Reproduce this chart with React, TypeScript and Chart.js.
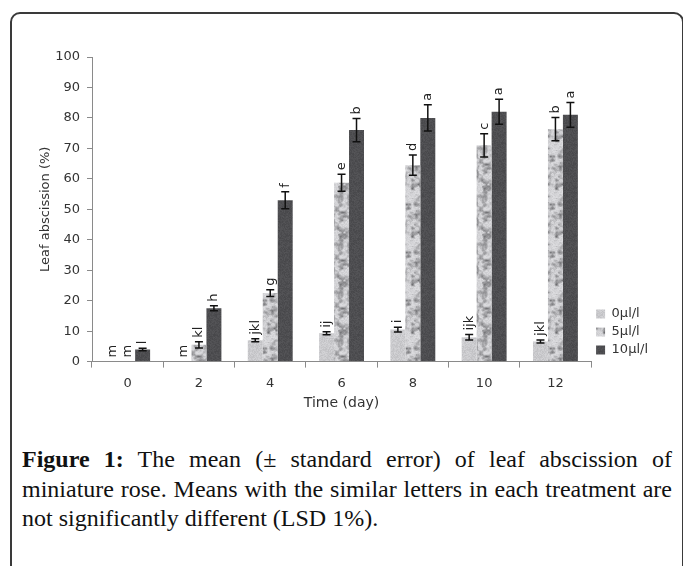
import React, { useEffect, useRef } from "react";
import { Chart, registerables } from "chart.js";

Chart.register(...registerables);

const days = ["0", "2", "4", "6", "8", "10", "12"];
const seriesNames = ["0µl/l", "5µl/l", "10µl/l"];
const mean0 = [0, 0, 7, 9.3, 10.5, 8, 6.6];
const mean5 = [0, 5.5, 22.5, 58.7, 64.5, 71, 76.3];
const mean10 = [4, 17.5, 53, 76, 80, 82, 81];
const se0 = [0, 0, 0.5, 0.5, 0.8, 0.9, 0.5];
const se5 = [0, 1, 1.1, 2.8, 3.3, 3.8, 3.8];
const se10 = [0.4, 0.8, 2.8, 3.8, 4.3, 4.1, 4.1];
const letters0 = ["m", "m", "jkl", "ij", "i", "ijk", "jkl"];
const letters5 = ["m", "kl", "g", "e", "d", "c", "b"];
const letters10 = ["l", "h", "f", "b", "a", "a", "a"];
const yTicks = [0, 10, 20, 30, 40, 50, 60, 70, 80, 90, 100];

const FONT = "'DejaVu Sans'";

function hash(x: number, y: number, s: number) {
  let h = (x * 374761393 + y * 668265263 + s * 982451653) | 0;
  h = Math.imul(h ^ (h >>> 13), 1274126177);
  h = h ^ (h >>> 16);
  return ((h >>> 0) % 1000) / 1000;
}

function smooth(x: number, y: number, cell: number, s: number, W: number) {
  const n = W / cell;
  const gx = x / cell, gy = y / cell;
  const x0 = Math.floor(gx), y0 = Math.floor(gy);
  const fx = gx - x0, fy = gy - y0;
  const a = hash(x0 % n, y0 % n, s), b = hash((x0 + 1) % n, y0 % n, s);
  const c = hash(x0 % n, (y0 + 1) % n, s), d = hash((x0 + 1) % n, (y0 + 1) % n, s);
  const u = fx * fx * (3 - 2 * fx), v = fy * fy * (3 - 2 * fy);
  return (a * (1 - u) + b * u) * (1 - v) + (c * (1 - u) + d * u) * v;
}

function makePattern(kind: number): CanvasPattern | string {
  const c = document.createElement("canvas");
  const W = 48, H = 48;
  c.width = W; c.height = H;
  const g = c.getContext("2d");
  if (!g) return "#999";
  const img = g.createImageData(W, H);
  for (let y = 0; y < H; y++) {
    for (let x = 0; x < W; x++) {
      let v = 128;
      if (kind === 0) {
        v = 202 + (hash(x, y, 1) - 0.5) * 20;
      } else if (kind === 1) {
        const n = smooth(x, y, 4, 7, W) * 0.6 + smooth(x, y, 2, 3, W) * 0.4;
        v = 212 - Math.max(0, n - 0.38) * 170 + (hash(x, y, 9) - 0.5) * 16;
      } else {
        v = 78 + (hash(x, y, 11) - 0.5) * 14;
      }
      const i = (y * W + x) * 4;
      img.data[i] = v;
      img.data[i + 1] = v;
      img.data[i + 2] = v + 3;
      img.data[i + 3] = 255;
    }
  }
  g.putImageData(img, 0, 0);
  const p = g.createPattern(c, "repeat");
  return p || "#999";
}

const errLetterPlugin = {
  id: "errLetters",
  afterDatasetsDraw(chart: any) {
    const ctx = chart.ctx;
    const yScale = chart.scales.y;
    const ses = [se0, se5, se10];
    const lets = [letters0, letters5, letters10];
    chart.data.datasets.forEach((ds: any, di: number) => {
      const meta = chart.getDatasetMeta(di);
      meta.data.forEach((bar: any, i: number) => {
        const v = ds.data[i];
        const se = ses[di][i];
        const x = bar.x;
        const yTop = yScale.getPixelForValue(v + se);
        const yBot = yScale.getPixelForValue(v - se);
        ctx.save();
        if (se > 0) {
          ctx.strokeStyle = "#111";
          ctx.lineWidth = 1.5;
          ctx.beginPath();
          ctx.moveTo(x, yTop);
          ctx.lineTo(x, yBot);
          ctx.moveTo(x - 4, yTop);
          ctx.lineTo(x + 4, yTop);
          ctx.moveTo(x - 4, yBot);
          ctx.lineTo(x + 4, yBot);
          ctx.stroke();
        }
        const txt = lets[di][i];
        ctx.translate(x, yTop - 4);
        ctx.rotate(-Math.PI / 2);
        ctx.fillStyle = "#222";
        ctx.font = "13px " + FONT;
        ctx.textAlign = "left";
        ctx.textBaseline = "middle";
        ctx.fillText(txt, 0, 0);
        ctx.restore();
      });
    });
  },
};

export default function App() {
  const ref = useRef<HTMLCanvasElement | null>(null);
  useEffect(() => {
    if (!ref.current) return;
    const pats = [makePattern(0), makePattern(1), makePattern(2)];
    const chart = new Chart(ref.current, {
      type: "bar",
      data: {
        labels: days,
        datasets: [
          { label: seriesNames[0], data: mean0, backgroundColor: pats[0] as any, borderWidth: 0 },
          { label: seriesNames[1], data: mean5, backgroundColor: pats[1] as any, borderWidth: 0 },
          { label: seriesNames[2], data: mean10, backgroundColor: pats[2] as any, borderWidth: 0 },
        ],
      },
      options: {
        animation: false,
        responsive: false,
        layout: { padding: { top: 17, right: 18, left: 0, bottom: 0 } },
        datasets: { bar: { categoryPercentage: 0.63, barPercentage: 1 } },
        plugins: {
          tooltip: { enabled: false },
          legend: {
            position: "right",
            align: "end",
            fullSize: false,
            labels: {
              boxWidth: 9,
              boxHeight: 9,
              padding: 5,
              color: "#333",
              font: { family: FONT, size: 13 },
            },
          },
        },
        scales: {
          x: {
            grid: {
              display: true,
              drawOnChartArea: false,
              drawTicks: true,
              tickLength: 6,
              offset: true,
              color: "#8a8a8a",
            },
            border: { color: "#8a8a8a", width: 1 },
            ticks: { color: "#333", font: { family: FONT, size: 13 }, padding: 8 },
            title: {
              display: true,
              text: "Time (day)",
              color: "#333",
              font: { family: FONT, size: 14 },
              padding: { top: -4, bottom: 0 },
            },
          },
          y: {
            min: 0,
            max: 100,
            afterBuildTicks: (s: any) => {
              s.ticks = yTicks.map((v) => ({ value: v }));
            },
            afterFit: (s: any) => {
              s.width = 56;
            },
            grid: {
              display: true,
              drawOnChartArea: false,
              drawTicks: true,
              tickLength: 5,
              color: "#8a8a8a",
            },
            border: { color: "#8a8a8a", width: 1 },
            ticks: { color: "#333", font: { family: FONT, size: 13 }, padding: 7 },
            title: {
              display: true,
              text: "Leaf abscission (%)",
              color: "#333",
              font: { family: FONT, size: 13 },
              padding: { top: 2, bottom: 0 },
            },
          },
        },
      },
      plugins: [errLetterPlugin],
    });
    return () => chart.destroy();
  }, []);

  return (
    <div
      style={{
        position: "absolute",
        left: 0,
        top: 0,
        width: 683,
        height: 566,
        overflow: "hidden",
        background: "#fff",
      }}
    >
      <div
        style={{
          position: "absolute",
          left: 10,
          top: 12,
          width: 674,
          height: 620,
          boxSizing: "border-box",
          border: "2px solid #3a3a3a",
          borderRadius: 10,
        }}
      />
      <canvas
        ref={ref}
        width={640}
        height={372}
        style={{ position: "absolute", left: 36, top: 40, width: 640, height: 372 }}
      />
      <div
        style={{
          position: "absolute",
          left: 22,
          top: 445,
          width: 650,
          textAlign: "justify",
          fontFamily: "'Liberation Serif', serif",
          fontSize: 24,
          lineHeight: "29.5px",
          color: "#111",
        }}
      >
        <b>Figure 1:</b> The mean (± standard error) of leaf abscission of miniature rose. Means
        with the similar letters in each treatment are not significantly different (LSD 1%).
      </div>
    </div>
  );
}
